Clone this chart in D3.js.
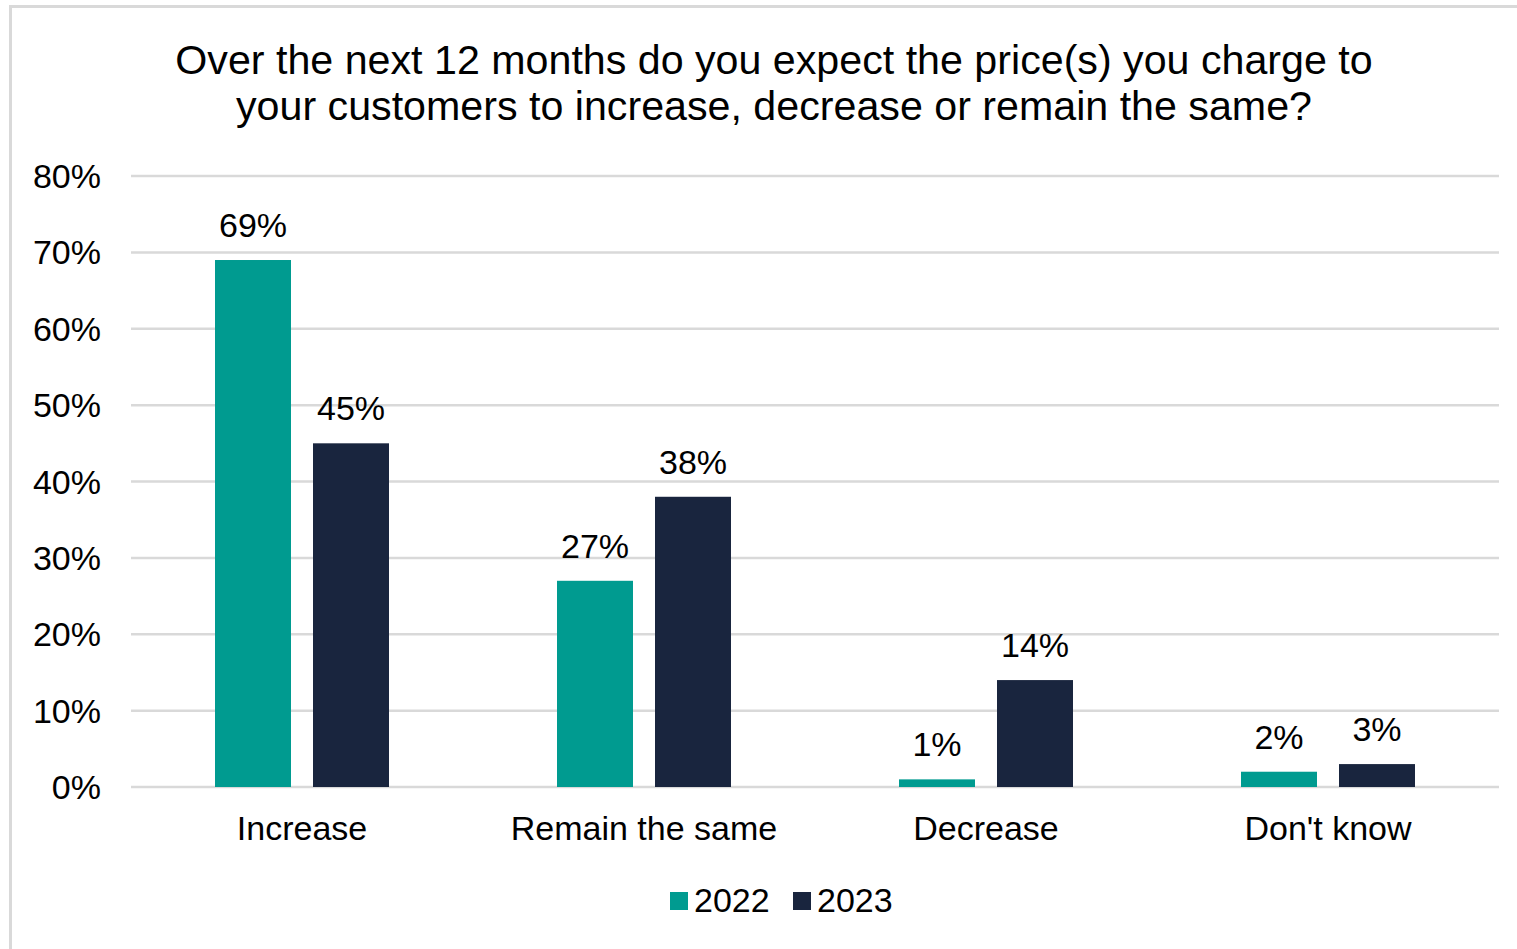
<!DOCTYPE html>
<html>
<head>
<meta charset="utf-8">
<script src="https://cdn.jsdelivr.net/npm/d3@7"></script>
<style>
  html, body { margin: 0; padding: 0; background: #fff; }
  svg { display: block; font-family: "Liberation Sans", Arial, sans-serif; }
</style>
</head>
<body>
<svg id="chart" width="1517" height="949"></svg>
<script>
// Survey responses: expected price change over the next 12 months
const categories = ["Increase", "Remain the same", "Decrease", "Don't know"];
const seriesNames = ["2022", "2023"];
const values2022 = [69, 27, 1, 2];
const values2023 = [45, 38, 14, 3];
const yTicks = [0, 10, 20, 30, 40, 50, 60, 70, 80];
const titleLines = [
  "Over the next 12 months do you expect the price(s) you charge to",
  "your customers to increase, decrease or remain the same?"
];
const colors = ["#009B90", "#19253E"];

const svg = d3.select("#chart");
const W = 1517, H = 949;

// outer frame
svg.append("rect")
  .attr("x", 10.5).attr("y", 6.5)
  .attr("width", W + 20).attr("height", H + 20)
  .attr("fill", "#fff").attr("stroke", "#D9D9D9").attr("stroke-width", 3);

const plot = { left: 131, right: 1499, top: 176, bottom: 787 };

const x0 = d3.scaleBand().domain(categories).range([plot.left, plot.right]).paddingInner(0).paddingOuter(0);
const y = d3.scaleLinear().domain([0, 80]).range([plot.bottom, plot.top]);

const barW = 76, gap = 22;
const fs = 34;

// title
svg.append("g").selectAll("text").data(titleLines).join("text")
  .attr("x", 774).attr("y", (d, i) => 73.5 + i * 46)
  .attr("text-anchor", "middle")
  .attr("font-size", 41.2)
  .attr("fill", "#000")
  .text(d => d);

// gridlines
svg.append("g").selectAll("line").data(yTicks).join("line")
  .attr("x1", plot.left).attr("x2", plot.right)
  .attr("y1", d => y(d)).attr("y2", d => y(d))
  .attr("stroke", "#D9D9D9").attr("stroke-width", 2.5);

// y axis tick labels
svg.append("g").selectAll("text").data(yTicks).join("text")
  .attr("x", 101).attr("y", d => y(d) + 12)
  .attr("text-anchor", "end")
  .attr("font-size", fs)
  .attr("fill", "#000")
  .text(d => d + "%");

// bars
const seriesData = [values2022, values2023];
seriesData.forEach((vals, s) => {
  const g = svg.append("g");
  const xPos = (c) => x0(c) + x0.bandwidth() / 2 + (s === 0 ? -(barW + gap / 2) : gap / 2);
  g.selectAll("rect").data(categories).join("rect")
    .attr("x", c => xPos(c))
    .attr("y", (c, i) => y(vals[i]))
    .attr("width", barW)
    .attr("height", (c, i) => y(0) - y(vals[i]))
    .attr("fill", colors[s]);
  g.selectAll("text").data(categories).join("text")
    .attr("x", c => xPos(c) + barW / 2)
    .attr("y", (c, i) => y(vals[i]) - 23)
    .attr("text-anchor", "middle")
    .attr("font-size", fs)
    .attr("fill", "#000")
    .text((c, i) => vals[i] + "%");
});

// category labels
svg.append("g").selectAll("text").data(categories).join("text")
  .attr("x", c => x0(c) + x0.bandwidth() / 2)
  .attr("y", 840)
  .attr("text-anchor", "middle")
  .attr("font-size", fs)
  .attr("fill", "#000")
  .text(c => c);

// legend
const legend = svg.append("g");
const legendX = [670, 793];
seriesNames.forEach((name, i) => {
  legend.append("rect")
    .attr("x", legendX[i]).attr("y", 892)
    .attr("width", 18).attr("height", 18)
    .attr("fill", colors[i]);
  legend.append("text")
    .attr("x", legendX[i] + 24).attr("y", 912)
    .attr("font-size", fs)
    .attr("fill", "#000")
    .text(name);
});
</script>
</body>
</html>
